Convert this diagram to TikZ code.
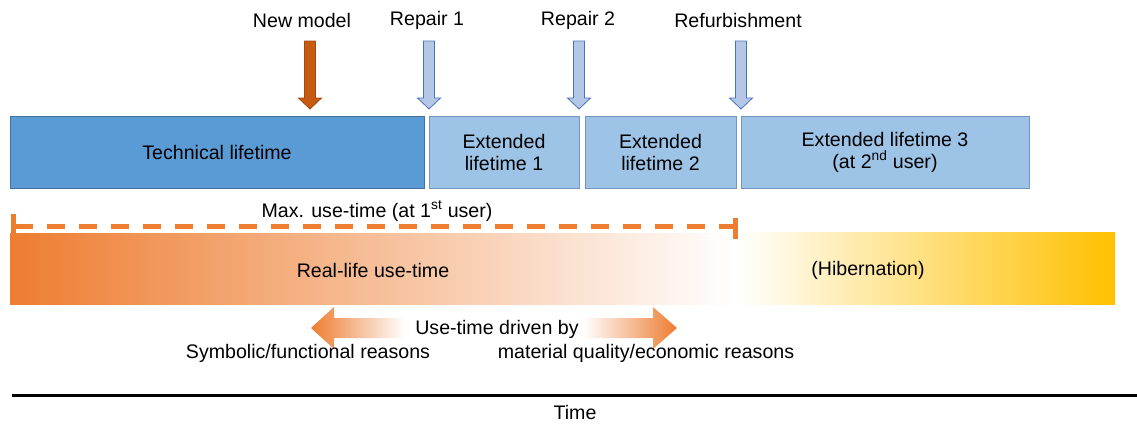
\documentclass[tikz,border=0pt]{standalone}
\usepackage{fontspec}
\setmainfont{Liberation Sans}
\definecolor{techfill}{HTML}{5B9BD5}
\definecolor{techline}{HTML}{41719C}
\definecolor{extfill}{HTML}{9DC3E6}
\definecolor{extline}{HTML}{7594BF}
\definecolor{repfill}{HTML}{B4C7E7}
\definecolor{repline}{HTML}{4A72B8}
\definecolor{newfill}{HTML}{C55A11}
\definecolor{newline}{HTML}{A4470D}
\definecolor{useorange}{HTML}{ED7D31}
\definecolor{gold}{HTML}{FFC000}
\tikzset{
  txt/.style={font=\fontsize{19.6}{22}\selectfont, inner sep=0pt, align=center},
  phasebox/.style={txt, draw, line width=1pt, minimum height=72pt},
  techbox/.style={phasebox, fill=techfill, draw=techline},
  extbox/.style={phasebox, fill=extfill, draw=extline},
  blockdown/.pic={
    \path[pic actions] (0,0) -- (11.5,-11) -- (5.5,-11) -- (5.5,-68)
      -- (-5.5,-68) -- (-5.5,-11) -- (-11.5,-11) -- cycle;
  },
  repairarrow/.style={fill=repfill, draw=repline, line width=0.8pt},
  modelarrow/.style={fill=newfill, draw=newline, line width=0.8pt},
  maxline/.style={draw=useorange, line width=5pt},
}
\begin{document}
\begin{tikzpicture}[x=1pt,y=-1pt]
\useasboundingbox (0,0) rectangle (1137,423);

% lifetime phases
\node[techbox, minimum width=414pt] (tech) at (217,152) {Technical lifetime};
\node[extbox, minimum width=150pt] (ext1) at (504,152) {Extended\\lifetime 1};
\node[extbox, minimum width=151pt] (ext2) at (660.5,152) {Extended\\lifetime 2};
\node[extbox, minimum width=288pt] (ext3) at (885,152) {Extended lifetime 3\\(at 2\textsuperscript{nd} user)};

% events marked by block arrows
\pic[modelarrow] at (310,109) {blockdown};
\pic[repairarrow] at (429,109) {blockdown};
\pic[repairarrow] at (579,109) {blockdown};
\pic[repairarrow] at (741,109) {blockdown};
\node[txt] (lnew) at (302,20) {New model};
\node[txt] (lrep1) at (427,20) {Repair 1};
\node[txt] (lrep2) at (578,20) {Repair 2};
\node[txt] (lrefurb) at (738,20) {Refurbishment};

% maximum use-time at the first user
\coordinate (maxL) at (13,226);
\coordinate (maxR) at (735.5,226);
\draw[maxline, dash pattern=on 18pt off 14pt] ([xshift=2pt]maxL) -- ([xshift=-2pt]maxR);
\node[txt] (lmax) at (377,211) {Max. use-time (at 1\textsuperscript{st} user)};

% real-life use-time and hibernation bars
\shade[left color=useorange, right color=white] (10,233) rectangle (736,304);
\shade[left color=white, right color=gold] (736,232) rectangle (1115,304);
\draw[maxline] (13,214) -- (maxL) -- (13,233);
\draw[maxline] (735.5,218) -- (maxR) -- (735.5,239);
\node[txt] (lreal) at (373,270) {Real-life use-time};
\node[txt] (lhib) at (868,270) {(Hibernation)};

% drivers of use-time
\shade[left color=useorange, right color=white]
  (311,328) -- (334,307) -- (334,318) -- (405,318) -- (405,338)
  -- (334,338) -- (334,349) -- cycle;
\shade[left color=white, right color=useorange]
  (583,318) -- (653,318) -- (653,307) -- (677,328) -- (653,349)
  -- (653,338) -- (583,338) -- cycle;
\node[txt] (ldrive) at (497,329) {Use-time driven by};
\node[txt] (lsym) at (308,353) {Symbolic/functional reasons};
\node[txt] (lmat) at (646,353) {material quality/economic reasons};

% time axis
\coordinate (t0) at (12,395);
\coordinate (t1) at (1137,395);
\draw[line width=3pt] (t0) -- (t1);
\node[txt] (ltime) at (575,412) {Time};
\end{tikzpicture}
\end{document}
